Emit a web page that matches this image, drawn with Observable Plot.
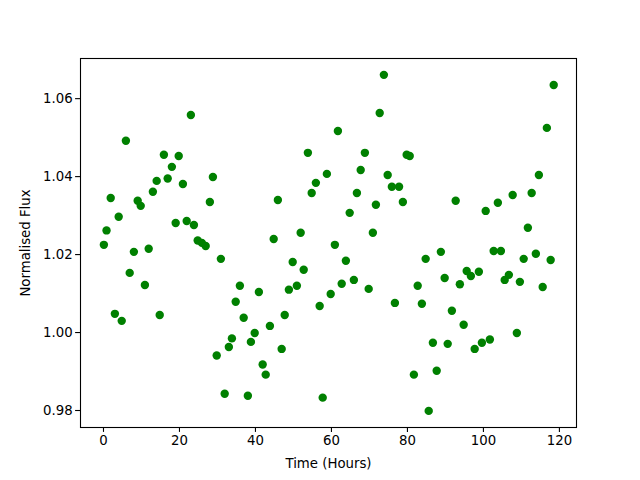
<!DOCTYPE html>
<html>
<head>
<meta charset="utf-8">
<script src="https://cdn.jsdelivr.net/npm/d3@7"></script>
<script src="https://cdn.jsdelivr.net/npm/@observablehq/plot@0.6"></script>
<style>
  html, body { margin: 0; padding: 0; background: white; }
</style>
</head>
<body>
<div id="chart"></div>
<script>
const hours = [
  0.1, 0.8, 1.9, 3.0, 4.0, 4.8, 5.9, 6.9, 8.0, 9.0,
  9.8, 10.9, 11.9, 13.0, 14.0, 14.8, 15.9, 16.9, 18.0, 19.0,
  19.8, 20.9, 21.9, 23.0, 23.8, 24.8, 25.9, 26.9, 28.0, 28.8,
  29.8, 30.9, 31.9, 33.0, 33.8, 34.8, 35.9, 36.9, 38.0, 38.8,
  39.8, 40.9, 41.9, 42.7, 43.8, 44.8, 45.9, 46.9, 47.7, 48.8,
  49.8, 50.9, 51.9, 52.7, 53.8, 54.8, 55.9, 56.9, 57.7, 58.8,
  59.8, 60.9, 61.7, 62.7, 63.8, 64.8, 65.9, 66.7, 67.7, 68.8,
  69.8, 70.9, 71.7, 72.7, 73.8, 74.8, 75.9, 76.7, 77.8, 78.8,
  79.8, 80.6, 81.7, 82.7, 83.8, 84.8, 85.6, 86.7, 87.7, 88.8,
  89.8, 90.6, 91.7, 92.7, 93.8, 94.8, 95.6, 96.7, 97.7, 98.8,
  99.6, 100.6, 101.7, 102.7, 103.8, 104.6, 105.6, 106.7, 107.7, 108.8,
  109.6, 110.6, 111.7, 112.7, 113.8, 114.6, 115.6, 116.7, 117.7, 118.5
];
const flux = [
  1.0225, 1.0262, 1.0345, 1.0048, 1.0297, 1.0030, 1.0492, 1.0153, 1.0207, 1.0338,
  1.0325, 1.0122, 1.0215, 1.0361, 1.0389, 1.0045, 1.0456, 1.0395, 1.0425, 1.0281,
  1.0453, 1.0381, 1.0286, 1.0558, 1.0276, 1.0236, 1.0230, 1.0222, 1.0335, 1.0399,
  0.9941, 1.0189, 0.9843, 0.9963, 0.9985, 1.0079, 1.0120, 1.0038, 0.9838, 0.9976,
  0.9999, 1.0104, 0.9918, 0.9892, 1.0017, 1.0240, 1.0340, 0.9958, 1.0045, 1.0110,
  1.0181, 1.0120, 1.0256, 1.0161, 1.0461, 1.0358, 1.0384, 1.0068, 0.9833, 1.0407,
  1.0099, 1.0225, 1.0517, 1.0125, 1.0184, 1.0307, 1.0135, 1.0358, 1.0417, 1.0461,
  1.0112, 1.0256, 1.0328, 1.0563, 1.0661, 1.0404, 1.0374, 1.0076, 1.0374, 1.0335,
  1.0456, 1.0453, 0.9892, 1.0120, 1.0074, 1.0189, 0.9799, 0.9974, 0.9902, 1.0207,
  1.0140, 0.9971, 1.0056, 1.0338, 1.0124, 1.0020, 1.0158, 1.0145, 0.9958, 1.0156,
  0.9974, 1.0312, 0.9982, 1.0209, 1.0333, 1.0209, 1.0135, 1.0148, 1.0353, 0.9999,
  1.0130, 1.0189, 1.0269, 1.0358, 1.0202, 1.0404, 1.0117, 1.0525, 1.0186, 1.0635
];
const xTicks = [0, 20, 40, 60, 80, 100, 120];
const yTicks = [0.98, 1.00, 1.02, 1.04, 1.06];
const xLabel = "Time (Hours)";
const yLabel = "Normalised Flux";

const data = hours.map((h, i) => ({h, f: flux[i]}));

const chart = Plot.plot({
  width: 640,
  height: 480,
  marginLeft: 80,
  marginRight: 64,
  marginTop: 58,
  marginBottom: 53,
  style: {fontFamily: "DejaVu Sans", fontSize: "13.3px", color: "black", background: "white"},
  x: {domain: [-6.05, 124.5]},
  y: {domain: [0.97564, 1.0703]},
  marks: [
    Plot.dot(data, {x: "h", y: "f", r: 4.2, fill: "#008000", stroke: "none"}),
    Plot.frame({stroke: "black", strokeWidth: 1.1}),
    Plot.axisX({ticks: xTicks, tickSize: 4.9, tickPadding: 3, tickFormat: d => String(d),
      strokeWidth: 1.1, label: xLabel, labelAnchor: "center", labelArrow: "none", labelOffset: 40}),
    Plot.axisY({ticks: yTicks, tickSize: 4.9, tickPadding: 3, tickFormat: d3.format(".2f"),
      strokeWidth: 1.1, label: yLabel, labelAnchor: "center", labelArrow: "none", labelOffset: 60})
  ]
});
document.getElementById("chart").appendChild(chart);
</script>
</body>
</html>
